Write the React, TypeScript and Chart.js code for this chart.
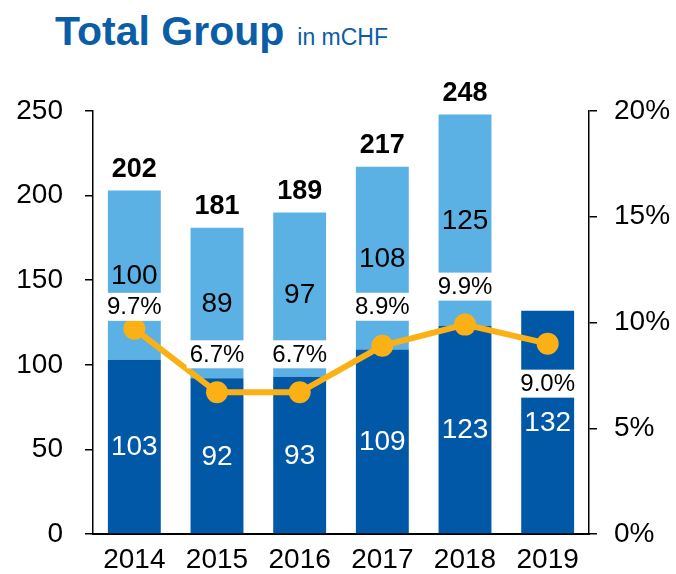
import React, { useEffect, useRef } from "react";
import { Chart, registerables } from "chart.js";

Chart.register(...registerables);

const years = ["2014", "2015", "2016", "2017", "2018", "2019"];
const baseValues = [103, 92, 93, 109, 123, 132];
const topValues = [100, 89, 97, 108, 125, null];
const totals = [202, 181, 189, 217, 248, null];
const margins = [9.7, 6.7, 6.7, 8.9, 9.9, 9.0];
const leftTicks = [0, 50, 100, 150, 200, 250];
const rightTicks = [0, 5, 10, 15, 20];

const DARK = "#0058A6";
const LIGHT = "#5BB1E4";
const ORANGE = "#FBB116";
const FONT = "'Liberation Sans', Arial, sans-serif";

// vertical offsets of the % labels relative to their points (px, positive = above)
const pctLabelOffsets = [22, 38, 38, 39, 38, -40];

const labelPlugin = {
  id: "customLabels",
  afterDatasetsDraw(chart: any) {
    const ctx = chart.ctx;
    const dsBase = chart.getDatasetMeta(0);
    const dsTop = chart.getDatasetMeta(1);
    const dsLine = chart.getDatasetMeta(2);
    ctx.save();
    ctx.textAlign = "center";
    ctx.textBaseline = "middle";
    ctx.font = `28px ${FONT}`;
    dsBase.data.forEach((bar: any, i: number) => {
      const v = baseValues[i];
      if (v == null) return;
      ctx.fillStyle = "#FFFFFF";
      ctx.fillText(String(v), bar.x, (bar.y + bar.base) / 2 + 1);
    });
    dsTop.data.forEach((bar: any, i: number) => {
      const v = topValues[i];
      if (v == null) return;
      ctx.fillStyle = "#000000";
      ctx.fillText(String(v), bar.x, (bar.y + bar.base) / 2 + 1);
    });
    ctx.font = `bold 27px ${FONT}`;
    dsTop.data.forEach((bar: any, i: number) => {
      const t = totals[i];
      if (t == null) return;
      ctx.fillStyle = "#000000";
      ctx.fillText(String(t), bar.x, bar.y - 21);
    });
    ctx.font = `24px ${FONT}`;
    dsLine.data.forEach((pt: any, i: number) => {
      const m = margins[i];
      if (m == null) return;
      const txt = m.toFixed(1) + "%";
      const w = ctx.measureText(txt).width;
      const cy = pt.y - pctLabelOffsets[i];
      ctx.fillStyle = "#FFFFFF";
      ctx.fillRect(pt.x - w / 2 - 3, cy - 14, w + 6, 28);
      ctx.fillStyle = "#000000";
      ctx.fillText(txt, pt.x, cy + 1);
    });
    ctx.restore();
  },
};

export default function App() {
  const ref = useRef<HTMLCanvasElement | null>(null);
  useEffect(() => {
    if (!ref.current) return;
    const chart = new Chart(ref.current, {
      type: "bar",
      data: {
        labels: years,
        datasets: [
          {
            type: "bar",
            label: "Base",
            data: baseValues,
            backgroundColor: DARK,
            stack: "s",
            yAxisID: "y",
            barPercentage: 0.64,
            categoryPercentage: 1,
            order: 1,
          } as any,
          {
            type: "bar",
            label: "Top",
            data: topValues,
            backgroundColor: LIGHT,
            stack: "s",
            yAxisID: "y",
            barPercentage: 0.64,
            categoryPercentage: 1,
            order: 2,
          } as any,
          {
            type: "line",
            label: "Margin",
            data: margins,
            yAxisID: "y1",
            borderColor: ORANGE,
            backgroundColor: ORANGE,
            borderWidth: 6,
            pointRadius: 11,
            pointBackgroundColor: ORANGE,
            pointBorderWidth: 0,
            order: 0,
          } as any,
        ],
      },
      options: {
        animation: false,
        responsive: false,
        maintainAspectRatio: false,
        layout: { padding: { top: 111, left: 0, right: 0, bottom: 0 } },
        plugins: { legend: { display: false }, tooltip: { enabled: false }, title: { display: false } },
        scales: {
          x: {
            stacked: true,
            grid: { display: false, drawTicks: false },
            border: { display: true, color: "#000", width: 2 },
            ticks: { color: "#000", font: { family: FONT, size: 28 }, padding: 9 },
            afterFit(scale: any) { scale.height = 40; },
          },
          y: {
            stacked: true,
            position: "left",
            min: 0,
            max: 250,
            afterBuildTicks(scale: any) { scale.ticks = leftTicks.map((v) => ({ value: v })); },
            grid: { drawOnChartArea: false, drawTicks: true, tickLength: 8, color: "#000", lineWidth: 1.5 },
            border: { display: true, color: "#000", width: 1.5 },
            ticks: { color: "#000", font: { family: FONT, size: 28 }, padding: 22 },
            afterFit(scale: any) { scale.width = 93; },
          },
          y1: {
            position: "right",
            min: 0,
            max: 20,
            afterBuildTicks(scale: any) { scale.ticks = rightTicks.map((v) => ({ value: v })); },
            grid: { drawOnChartArea: false, drawTicks: true, tickLength: 8, color: "#000", lineWidth: 1.5 },
            border: { display: true, color: "#000", width: 1.5 },
            ticks: { color: "#000", font: { family: FONT, size: 28 }, padding: 17, callback: (v: any) => v + "%" },
            afterFit(scale: any) { scale.width = 87; },
          },
        },
      },
      plugins: [labelPlugin],
    });
    return () => chart.destroy();
  }, []);

  return (
    <div style={{ position: "absolute", left: 0, top: 0, width: 676, height: 574, background: "#fff" }}>
      <div
        style={{
          position: "absolute",
          left: 55,
          top: 6,
          fontFamily: FONT,
          color: "#0B5DA7",
          whiteSpace: "nowrap",
          lineHeight: "50px",
        }}
      >
        <span style={{ fontSize: 41, fontWeight: "bold" }}>Total Group</span>
        <span style={{ fontSize: 23, marginLeft: 13 }}>in mCHF</span>
      </div>
      <canvas ref={ref} width={676} height={574} style={{ position: "absolute", left: 0, top: 0, width: 676, height: 574 }} />
    </div>
  );
}
